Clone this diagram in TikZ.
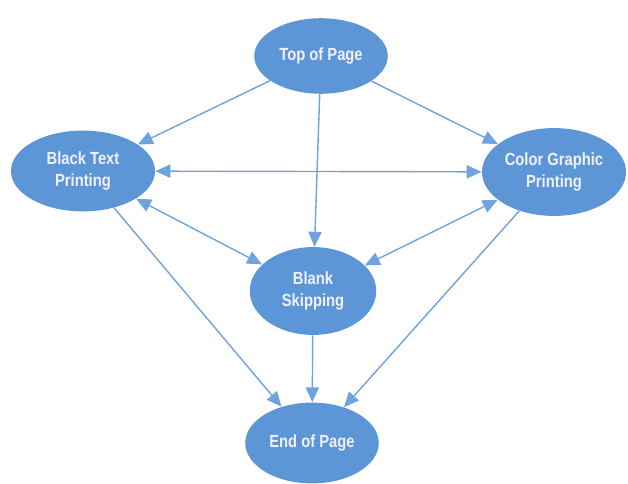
\documentclass[tikz,border=0pt]{standalone}
\usepackage{xcolor}
\usepackage{fontspec}
\setmainfont{Liberation Sans}[FakeStretch=0.84]
\usetikzlibrary{shapes.geometric,arrows.meta}

\definecolor{statefill}{RGB}{92,150,214}
\definecolor{edgeblue}{RGB}{110,163,222}

\tikzset{
    state/.style={ellipse, fill=statefill, draw=none, inner sep=0pt,
        text=white!94!blue, font=\fontsize{10}{13}\selectfont\bfseries,
        align=center},
    link/.style={draw=edgeblue, line width=0.8pt,
        -{Triangle[length=8.5pt,width=7.5pt]}},
    both/.style={link, {Triangle[length=8.5pt,width=7.5pt]}-{Triangle[length=8.5pt,width=7.5pt]}},
}

\begin{document}
\begin{tikzpicture}[x=0.02cm, y=-0.02cm]
        \useasboundingbox (0,0) rectangle (628,483);
        \node[state, minimum width=76pt, minimum height=43pt] (top) at (321,56) {Top of Page};
        \node[state, minimum width=82pt, minimum height=46pt] (black) at (83,171) {Black Text\\Printing};
        \node[state, minimum width=82pt, minimum height=50pt] (color) at (554,172) {Color Graphic\\Printing};
        \node[state, minimum width=72pt, minimum height=50pt] (blank) at (313,291) {Blank\\Skipping};
        \node[state, minimum width=76pt, minimum height=46pt] (end) at (312,443) {End of Page};

        % from the top
        \draw[link] (top) -- (black);
        \draw[link] (top) -- (color);
        \draw[link] (top) -- (blank);
        % between the printing states
        \draw[both] (black) -- (color);
        \draw[both] (black) -- (blank);
        \draw[both] (color) -- (blank);
        % down to the end
        \draw[link] (black) -- (end);
        \draw[link] (blank) -- (end);
        \draw[link] (color) -- (end);
    \end{tikzpicture}
\end{document}
